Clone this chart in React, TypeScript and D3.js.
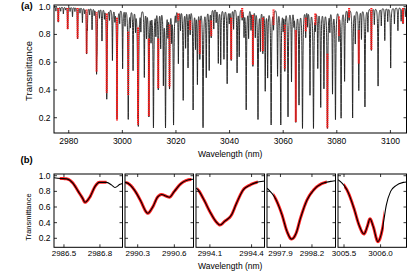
import React from 'react';
import * as d3 from 'd3';

const W = 409;
const H = 274;

// ---------- panel (a) data ----------
const topXDomain = [2974.5, 3106.0];
const topYDomain = [0.09, 1.012];
const topXTicks = [2980, 3000, 3020, 3040, 3060, 3080, 3100];
const yTicks = [0.2, 0.4, 0.6, 0.8, 1.0];

// absorption line centres (nm) and their minimum transmittance
const lineCenters = [
  2975.2, 2976.1, 2977.0, 2978.0, 2978.8, 2979.6, 2980.5, 2981.4, 2982.3, 2983.3,
  2984.2, 2985.1, 2985.9, 2986.67, 2986.95, 2987.8, 2988.7, 2989.5, 2990.38, 2990.56,
  2991.5, 2992.4, 2993.3, 2994.17, 2994.27, 2995.2, 2996.3, 2997.2, 2998.0, 2999.0,
  3000.1, 3001.0, 3002.2, 3003.0, 3004.0, 3004.9, 3005.77, 3005.96, 3006.9, 3008.2,
  3009.0, 3009.9, 3010.7, 3011.6, 3012.5, 3013.4, 3014.3, 3015.3, 3016.1, 3017.0,
  3017.6, 3018.4, 3019.1, 3020.0, 3020.9, 3021.7, 3022.7, 3023.6, 3024.5, 3025.3,
  3026.4, 3027.3, 3028.0, 3028.9, 3030.1, 3031.3, 3032.4, 3033.15, 3034.1, 3035.0,
  3035.8, 3036.7, 3037.9, 3039.1, 3039.9, 3040.6, 3041.5, 3042.8, 3043.6, 3044.7,
  3045.4, 3046.2, 3047.1, 3048.0, 3048.7, 3049.6, 3050.6, 3051.5, 3052.4, 3053.3,
  3054.2, 3055.5, 3056.4, 3057.9, 3059.1, 3060.0, 3060.6, 3061.8, 3063.1, 3064.0,
  3064.7, 3065.9, 3067.2, 3068.4, 3069.1, 3070.0, 3071.3, 3072.0, 3072.9, 3074.0,
  3075.2, 3076.5, 3077.4, 3078.4, 3079.5, 3080.8, 3081.6, 3082.9, 3084.0, 3084.6,
  3085.9, 3086.9, 3088.2, 3089.2, 3090.5, 3091.6, 3092.9, 3094.0, 3095.4, 3096.6,
  3097.9, 3099.0, 3100.1, 3101.5, 3102.8, 3104.0, 3104.7, 3105.6,
];
const lineMinT = [
  0.97, 0.89, 0.97, 0.95, 0.98, 0.84, 0.97, 0.93, 0.97, 0.77,
  0.96, 0.89, 0.96, 0.67, 0.87, 0.95, 0.84, 0.95, 0.55, 0.76,
  0.93, 0.76, 0.93, 0.39, 0.75, 0.92, 0.62, 0.92, 0.19, 0.9,
  0.56, 0.88, 0.19, 0.88, 0.55, 0.85, 0.3, 0.18, 0.85, 0.5,
  0.8, 0.21, 0.78, 0.13, 0.82, 0.41, 0.72, 0.45, 0.13, 0.82,
  0.42, 0.78, 0.15, 0.92, 0.6, 0.85, 0.33, 0.72, 0.57, 0.82,
  0.26, 0.72, 0.45, 0.64, 0.13, 0.5, 0.55, 0.79, 0.85, 0.9,
  0.6, 0.59, 0.63, 0.45, 0.9, 0.62, 0.85, 0.53, 0.65, 0.92,
  0.8, 0.26, 0.79, 0.85, 0.58, 0.8, 0.19, 0.7, 0.68, 0.4,
  0.5, 0.15, 0.86, 0.51, 0.15, 0.86, 0.55, 0.21, 0.47, 0.9,
  0.17, 0.3, 0.125, 0.8, 0.88, 0.37, 0.125, 0.87, 0.57, 0.28,
  0.42, 0.125, 0.85, 0.38, 0.19, 0.78, 0.2, 0.47, 0.9, 0.92,
  0.2, 0.75, 0.4, 0.78, 0.28, 0.83, 0.69, 0.88, 0.43, 0.87,
  0.76, 0.9, 0.56, 0.88, 0.83, 0.9, 0.88, 0.93,
];
const lineHalfWidth = 0.1; // nm

// measured (red) streaks in panel (a)
const redCenters = [
  2976.1, 2979.6, 2983.3, 2986.67, 2990.38, 2994.17, 2998.0, 3002.2, 3005.85, 3009.9,
  3013.4, 3017.6, 3020.85, 3025.3, 3028.9, 3033.15, 3040.6, 3044.7, 3048.7, 3052.4,
  3056.4, 3060.6, 3064.7, 3068.4, 3072.0, 3076.5, 3080.8, 3084.6, 3088.2, 3092.9, 3104.7,
];
const redTopT = [
  0.99, 0.99, 0.99, 0.98, 0.96, 0.95, 0.92, 0.82, 0.85, 0.77,
  0.77, 0.87, 0.95, 0.9, 0.9, 0.9, 0.92, 0.99, 0.94, 0.92,
  0.98, 0.87, 0.83, 0.92, 0.95, 0.66, 0.93, 0.99, 0.83, 0.99, 0.99,
];
const redBottomT = [
  0.89, 0.84, 0.77, 0.66, 0.53, 0.38, 0.18, 0.36, 0.15, 0.21,
  0.41, 0.42, 0.9, 0.83, 0.66, 0.79, 0.62, 0.92, 0.58, 0.68,
  0.87, 0.55, 0.17, 0.82, 0.87, 0.125, 0.79, 0.92, 0.59, 0.69, 0.88,
];

// ---------- panel (b) data ----------
const bottomYDomain = [0.085, 1.022];
const panelDomains = [
  [2986.417, 2986.988],
  [2990.196, 2990.757],
  [2994.0, 2994.493],
  [2997.772, 2998.424],
  [3005.418, 3006.354],
];
const panelTicks = [
  [2986.5, 2986.8],
  [2990.3, 2990.6],
  [2994.1, 2994.4],
  [2997.9, 2998.2],
  [3005.5, 3006.0],
];
const panelTickLabels = [
  ['2986.5', '2986.8'],
  ['2990.3', '2990.6'],
  ['2994.1', '2994.4'],
  ['2997.9', '2998.2'],
  ['3005.5', '3006.0'],
];

const p1Wl = [2986.417, 2986.47, 2986.5225, 2986.5775, 2986.619, 2986.656, 2986.675, 2986.717, 2986.758, 2986.794, 2986.856, 2986.898, 2986.925, 2986.967, 2986.988];
const p1T = [0.975, 0.965, 0.96, 0.9, 0.8, 0.71, 0.66, 0.73, 0.86, 0.915, 0.915, 0.88, 0.85, 0.89, 0.9];
const p2Wl = [2990.196, 2990.223, 2990.272, 2990.327, 2990.368, 2990.382, 2990.423, 2990.464, 2990.497, 2990.532, 2990.559, 2990.6, 2990.655, 2990.71, 2990.757];
const p2T = [0.915, 0.9, 0.82, 0.67, 0.54, 0.52, 0.6, 0.73, 0.76, 0.74, 0.725, 0.8, 0.9, 0.945, 0.955];
const p3Wl = [2994.0, 2994.009, 2994.052, 2994.1, 2994.148, 2994.172, 2994.208, 2994.256, 2994.292, 2994.34, 2994.388, 2994.436, 2994.483, 2994.493];
const p3T = [0.84, 0.83, 0.71, 0.54, 0.405, 0.37, 0.42, 0.5, 0.65, 0.82, 0.88, 0.915, 0.93, 0.932];
const p4Wl = [2997.772, 2997.789, 2997.852, 2997.915, 2997.963, 2998.005, 2998.049, 2998.09, 2998.153, 2998.217, 2998.296, 2998.391, 2998.424];
const p4T = [0.84, 0.82, 0.71, 0.5, 0.285, 0.19, 0.265, 0.455, 0.69, 0.82, 0.9, 0.93, 0.935];
const p5Wl = [3005.418, 3005.48, 3005.545, 3005.637, 3005.705, 3005.773, 3005.818, 3005.855, 3005.9, 3005.964, 3006.023, 3006.078, 3006.137, 3006.205, 3006.31, 3006.354];
const p5T = [0.95, 0.9, 0.81, 0.58, 0.37, 0.255, 0.35, 0.45, 0.35, 0.157, 0.31, 0.625, 0.8, 0.87, 0.915, 0.92];
const panelWl = [p1Wl, p2Wl, p3Wl, p4Wl, p5Wl];
const panelT = [p1T, p2T, p3T, p4T, p5T];
// wavelength span covered by the measured (red) points in each panel
const redStart = [2986.465, 2990.2, 2994.01, 2997.835, 3005.5];
const redEnd = [2986.855, 2990.74, 2994.445, 2998.34, 3006.045];

const FONT = "'Liberation Sans', Arial, Helvetica, sans-serif";

export default function App() {
  // ---- panel (a)
  const aLeft = 54, aRight = 406.5, aTop = 5, aBottom = 133;
  const tx = d3.scaleLinear().domain(topXDomain).range([aLeft, aRight]);
  const ty = d3.scaleLinear().domain(topYDomain).range([aBottom, aTop]);
  const g2 = lineHalfWidth * lineHalfWidth;
  const absorb = lineMinT.map((t) => -Math.log(t));
  const samples = d3.range(topXDomain[0], topXDomain[1] + 1e-9, 0.02);
  const tVals = samples.map((l) => {
    let a = 0;
    for (let i = 0; i < lineCenters.length; i++) {
      const d = l - lineCenters[i];
      a += (absorb[i] * g2) / (g2 + d * d);
    }
    return Math.exp(-a);
  });
  const topPath = d3
    .line<number>()
    .x((_, i) => tx(samples[i]))
    .y((v) => ty(v))(tVals) as string;

  // ---- panel (b)
  const bTop = 174, bBottom = 247.3;
  const bLeft0 = 54, bRightEnd = 406.5, gap = 2.5;
  const pw = (bRightEnd - bLeft0 - gap * 4) / 5;
  const by = d3.scaleLinear().domain(bottomYDomain).range([bBottom, bTop]);

  const tick = 3;

  return (
    <svg
      width={W}
      height={H}
      viewBox={`0 0 ${W} ${H}`}
      style={{ position: 'absolute', left: 0, top: 0, background: '#fff' }}
      fontFamily={FONT}
    >
      <defs>
        <clipPath id="clipA">
          <rect x={aLeft} y={aTop} width={aRight - aLeft} height={aBottom - aTop} />
        </clipPath>
        {panelDomains.map((dom, p) => {
          const left = bLeft0 + p * (pw + gap);
          const xs = d3.scaleLinear().domain(dom).range([left, left + pw]);
          return (
            <React.Fragment key={p}>
              <clipPath id={`clipB${p}`}>
                <rect x={left} y={bTop} width={pw} height={bBottom - bTop} />
              </clipPath>
              <clipPath id={`clipR${p}`}>
                <rect x={xs(redStart[p])} y={bTop} width={xs(redEnd[p]) - xs(redStart[p])} height={bBottom - bTop} />
              </clipPath>
            </React.Fragment>
          );
        })}
      </defs>

      {/* ---------- panel (a) ---------- */}
      <text x={21} y={9} fontSize={9.5} fontWeight="bold">(a)</text>
      <g clipPath="url(#clipA)">
        <path d={topPath} fill="none" stroke="#222" strokeWidth={0.95} strokeLinejoin="round" />
        {redCenters.map((c, i) => (
          <line
            key={i}
            x1={tx(c)}
            x2={tx(c)}
            y1={ty(redTopT[i])}
            y2={ty(redBottomT[i])}
            stroke="#ff1a1a"
            strokeWidth={2.1}
            strokeDasharray="1.4,0.6"
          />
        ))}
      </g>
      <rect x={aLeft} y={aTop} width={aRight - aLeft} height={aBottom - aTop} fill="none" stroke="#000" strokeWidth={1} />
      {topXTicks.map((v) => (
        <g key={v}>
          <line x1={tx(v)} x2={tx(v)} y1={aBottom} y2={aBottom - tick} stroke="#000" strokeWidth={0.8} />
          <line x1={tx(v)} x2={tx(v)} y1={aTop} y2={aTop + tick} stroke="#000" strokeWidth={0.8} />
          <text x={tx(v)} y={143.5} fontSize={8.5} textAnchor="middle">{v}</text>
        </g>
      ))}
      {yTicks.map((v) => (
        <g key={v}>
          <line x1={aLeft} x2={aLeft + tick} y1={ty(v)} y2={ty(v)} stroke="#000" strokeWidth={0.8} />
          <line x1={aRight} x2={aRight - tick} y1={ty(v)} y2={ty(v)} stroke="#000" strokeWidth={0.8} />
          <text x={50.5} y={ty(v)} dy="0.35em" fontSize={8.5} textAnchor="end">{v.toFixed(1)}</text>
        </g>
      ))}
      <text transform={`translate(28.5,71) rotate(-90)`} fontSize={9.5} textAnchor="middle" dominantBaseline="central">
        Transmittance
      </text>
      <text x={(aLeft + aRight) / 2} y={157} fontSize={8.5} textAnchor="middle">Wavelength (nm)</text>

      {/* ---------- panel (b) ---------- */}
      <text x={20.5} y={162.5} fontSize={9.5} fontWeight="bold">(b)</text>
      {panelDomains.map((dom, p) => {
        const left = bLeft0 + p * (pw + gap);
        const right = left + pw;
        const xs = d3.scaleLinear().domain(dom).range([left, right]);
        const pts = panelWl[p].map((w, i) => [w, panelT[p][i]] as [number, number]);
        const d = d3
          .line<[number, number]>()
          .x((q) => xs(q[0]))
          .y((q) => by(q[1]))
          .curve(d3.curveMonotoneX)(pts) as string;
        return (
          <g key={p}>
            <g clipPath={`url(#clipB${p})`}>
              <g clipPath={`url(#clipR${p})`}>
                <path d={d} fill="none" stroke="#ff2020" strokeWidth={3} strokeDasharray="1.6,0.6" strokeLinecap="round" />
              </g>
              <path d={d} fill="none" stroke="#000" strokeWidth={1.1} />
            </g>
            <rect x={left} y={bTop} width={pw} height={bBottom - bTop} fill="none" stroke="#000" strokeWidth={1} />
            {yTicks.map((v) => (
              <g key={v}>
                <line x1={left} x2={left + tick} y1={by(v)} y2={by(v)} stroke="#000" strokeWidth={0.8} />
                <line x1={right} x2={right - tick} y1={by(v)} y2={by(v)} stroke="#000" strokeWidth={0.8} />
              </g>
            ))}
            {panelTicks[p].map((v, k) => (
              <g key={k}>
                <line x1={xs(v)} x2={xs(v)} y1={bBottom} y2={bBottom - tick} stroke="#000" strokeWidth={0.8} />
                <line x1={xs(v)} x2={xs(v)} y1={bTop} y2={bTop + tick} stroke="#000" strokeWidth={0.8} />
                <text x={xs(v)} y={255.5} fontSize={8} textAnchor="middle">{panelTickLabels[p][k]}</text>
              </g>
            ))}
          </g>
        );
      })}
      {yTicks.map((v) => (
        <text key={v} x={50.5} y={by(v)} dy="0.35em" fontSize={8.5} textAnchor="end">{v.toFixed(1)}</text>
      ))}
      <text transform={`translate(28.5,217) rotate(-90)`} fontSize={7.5} textAnchor="middle" dominantBaseline="central">
        Transmittance
      </text>
      <text x={(aLeft + aRight) / 2} y={269} fontSize={8.5} textAnchor="middle">Wavelength (nm)</text>
    </svg>
  );
}
